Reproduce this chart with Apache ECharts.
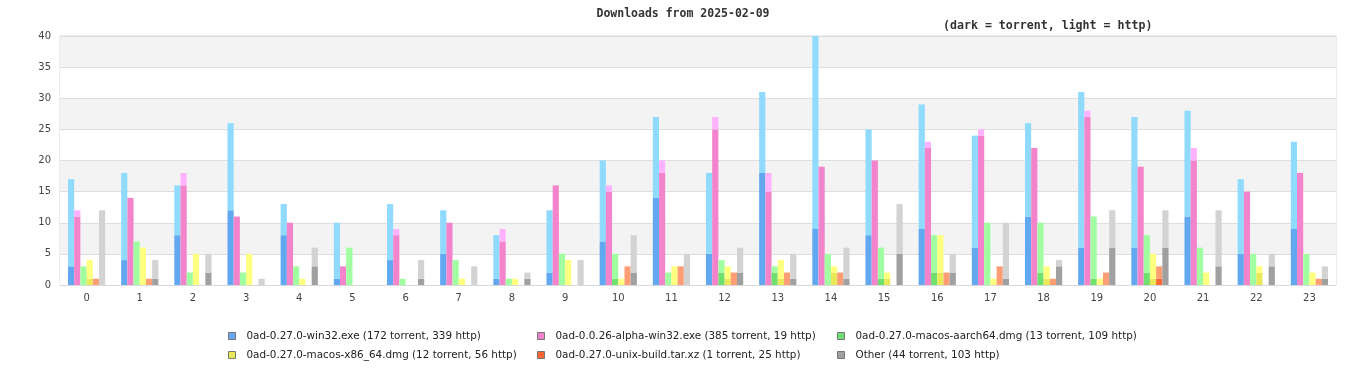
<!DOCTYPE html>
<html><head><meta charset="utf-8">
<script src="https://cdn.jsdelivr.net/npm/echarts@6/dist/echarts.min.js"></script>
<style>html,body{margin:0;padding:0;background:#fff}#c{width:1366px;height:380px}</style>
</head><body><div id="c"></div>
<script>
const hours = ['0','1','2','3','4','5','6','7','8','9','10','11','12','13','14','15','16','17','18','19','20','21','22','23'];
const yTicks = [0,5,10,15,20,25,30,35,40];
const names = [
  '0ad-0.27.0-win32.exe (172 torrent, 339 http)',
  '0ad-0.0.26-alpha-win32.exe (385 torrent, 19 http)',
  '0ad-0.27.0-macos-aarch64.dmg (13 torrent, 109 http)',
  '0ad-0.27.0-macos-x86_64.dmg (12 torrent, 56 http)',
  '0ad-0.27.0-unix-build.tar.xz (1 torrent, 25 http)',
  'Other (44 torrent, 103 http)'
];
const win32Torrent = [3,4,8,12,8,1,4,5,1,2,7,14,5,18,9,8,9,6,11,6,6,11,5,9];
const win32Http    = [14,14,8,14,5,9,9,7,7,10,13,13,13,13,31,17,20,18,15,25,21,17,12,14];
const alphaTorrent = [11,14,16,11,10,3,8,10,7,16,15,18,25,15,19,20,22,24,22,27,19,20,15,18];
const alphaHttp    = [1,0,2,0,0,0,1,0,2,0,1,2,2,3,0,0,1,1,0,1,0,2,0,0];
const aarchTorrent = [0,0,0,0,0,0,0,0,0,0,1,0,2,2,0,1,2,0,2,1,2,0,0,0];
const aarchHttp    = [3,7,2,2,3,6,1,4,1,5,4,2,2,1,5,5,6,10,8,10,6,6,5,5];
const x86Torrent   = [1,0,0,0,0,0,0,0,0,0,0,0,1,1,2,1,2,0,1,0,1,0,2,0];
const x86Http      = [3,6,5,5,1,0,0,1,1,4,1,3,2,3,1,1,6,1,2,1,4,2,1,2];
const unixTorrent  = [0,0,0,0,0,0,0,0,0,0,0,0,0,0,0,0,0,0,0,0,1,0,0,0];
const unixHttp     = [1,1,0,0,0,0,0,0,0,0,3,3,2,2,2,0,2,3,1,2,2,0,0,1];
const otherTorrent = [0,1,2,0,3,0,1,0,1,0,2,0,2,1,1,5,2,1,3,6,6,3,3,1];
const otherHttp    = [12,3,3,1,3,0,3,3,1,4,6,5,4,4,5,8,3,9,1,6,6,9,2,2];

const torrentData = [win32Torrent, alphaTorrent, aarchTorrent, x86Torrent, unixTorrent, otherTorrent];
const httpData = [win32Http, alphaHttp, aarchHttp, x86Http, unixHttp, otherHttp];
const darkColors = ['#62a8f0','#f384cc','#6ee06e','#e8e858','#ff6633','#a0a0a0'];
const lightColors = ['#90dafe','#ffb3ff','#a0ffa0','#ffff80','#ff9e74','#d3d3d3'];

const series = [];
names.forEach((n, i) => {
  series.push({name:n, type:'bar', stack:'s'+i, data:torrentData[i], barGap:'0%', barCategoryGap:'30%',
    itemStyle:{color:darkColors[i]}, emphasis:{disabled:true}});
  series.push({name:n, type:'bar', stack:'s'+i, data:httpData[i], barGap:'0%', barCategoryGap:'30%',
    itemStyle:{color:lightColors[i]}, emphasis:{disabled:true}});
});

function legendCol(left, idx) {
  return {
    orient:'vertical', left:left, top:330, padding:0, itemWidth:7, itemHeight:7, itemGap:7,
    icon:'rect', selectedMode:false,
    data: idx.map(i => ({name:names[i], itemStyle:{color:darkColors[i], borderColor:'#777', borderWidth:1}})),
    textStyle:{fontFamily:'DejaVu Sans', fontSize:10.4, color:'#222', lineHeight:12, padding:[0,0,0,6]}
  };
}

const chart = echarts.init(document.getElementById('c'), null, {renderer:'canvas'});
chart.setOption({
  animation:false,
  title:[
    {text:'Downloads from 2025-02-09', left:'center', top:8, padding:0,
     textStyle:{fontFamily:'DejaVu Sans Mono', fontWeight:'bold', fontSize:11.5, color:'#333'}},
    {text:'(dark = torrent, light = http)', left:943, top:20, padding:0,
     textStyle:{fontFamily:'DejaVu Sans Mono', fontWeight:'bold', fontSize:11.6, color:'#333'}}
  ],
  legend:[legendCol(228,[0,3]), legendCol(537,[1,4]), legendCol(837,[2,5])],
  grid:{left:60, right:30, top:36, bottom:95, show:true, borderColor:'#d8d8d8', borderWidth:1, backgroundColor:'transparent'},
  xAxis:{type:'category', data:hours,
    axisLine:{show:true, lineStyle:{color:'#d8d8d8'}}, axisTick:{show:false},
    axisLabel:{fontFamily:'DejaVu Sans', fontSize:10, color:'#444', margin:8}},
  yAxis:{type:'value', min:yTicks[0], max:yTicks[yTicks.length-1], interval:5,
    axisLine:{show:false}, axisTick:{show:false},
    axisLabel:{fontFamily:'DejaVu Sans', fontSize:10, color:'#444', margin:9},
    splitLine:{show:true, lineStyle:{color:'#dedede'}},
    splitArea:{show:true, areaStyle:{color:['#ffffff','#f3f3f3']}}},
  series:series
});
</script></body></html>
